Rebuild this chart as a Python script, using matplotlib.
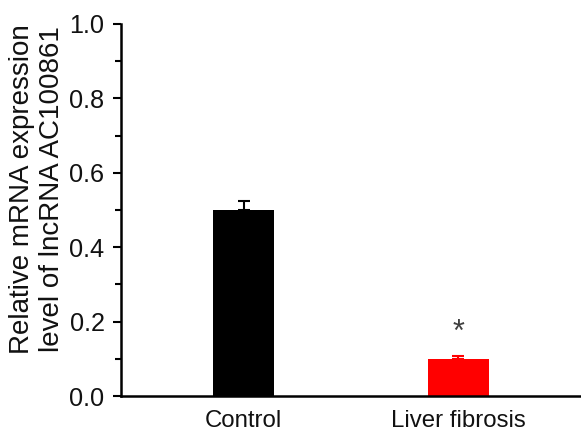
import matplotlib.pyplot as plt
from matplotlib.ticker import MultipleLocator

groups = ["Control", "Liver fibrosis"]
values = [0.50, 0.10]
errors = [0.025, 0.008]
colors = ["black", "red"]
sig_marks = ["", "*"]


def main():
    plt.rcParams['font.family'] = ['Liberation Sans', 'DejaVu Sans']
    fig = plt.figure(figsize=(5.81, 4.32), dpi=100)
    ax = fig.add_axes([121 / 581, 36 / 432, 460 / 581, 372 / 432])

    pos = list(range(len(groups)))
    for i in pos:
        ax.bar(pos[i], values[i], width=0.287, color=colors[i])
        ax.errorbar(pos[i], values[i], yerr=[[0], [errors[i]]], color=colors[i],
                    capsize=4, elinewidth=1.5, capthick=1.5)
        if sig_marks[i]:
            ax.text(pos[i], values[i] + 0.07, sig_marks[i], ha='center', va='center',
                    fontsize=22, color='#404040')

    ax.set_xlim(-0.57, 1.57)
    ax.set_ylim(0, 1.0)
    ax.set_xticks(pos)
    ax.set_xticklabels(groups, fontsize=17.3, color='#111111')
    ax.tick_params(axis='x', length=0, pad=10)
    ax.yaxis.set_major_locator(MultipleLocator(0.2))
    ax.yaxis.set_minor_locator(MultipleLocator(0.1))
    ax.set_yticklabels(["%.1f" % v for v in ax.get_yticks()], fontsize=18.2, color='#111111')
    ax.tick_params(axis='y', which='major', length=5.8, width=1.5, pad=6)
    ax.tick_params(axis='y', which='minor', length=4.3, width=1.5)

    ax.spines['top'].set_visible(False)
    ax.spines['right'].set_visible(False)
    ax.spines['left'].set_linewidth(1.8)
    ax.spines['bottom'].set_linewidth(1.8)

    fig.text(37 / 581, 1 - 189 / 432, "Relative mRNA expression\nlevel of lncRNA AC100861",
             rotation=90, ha='center', va='center', multialignment='center',
             fontsize=20, linespacing=1.22, color='#111111')

    plt.savefig("out.png", dpi=100)


if __name__ == "__main__":
    main()
